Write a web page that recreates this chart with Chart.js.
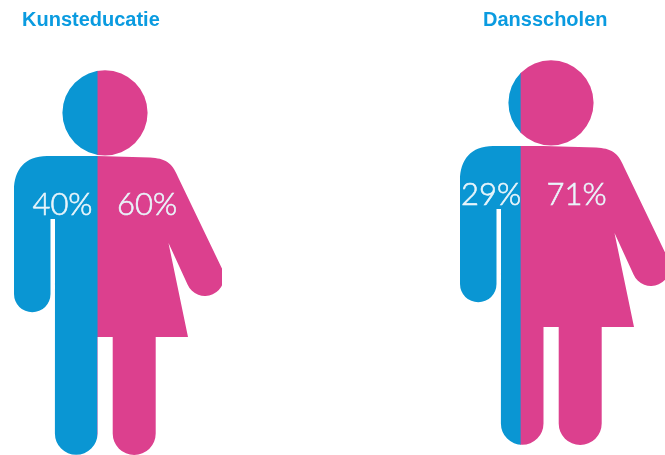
<!DOCTYPE html>
<html><head><meta charset="utf-8">
<script src="https://cdn.jsdelivr.net/npm/chart.js@4"></script>
<style>
html,body{margin:0;padding:0;background:#fff;overflow:hidden;width:665px;height:455px}
#wrap{position:relative;width:665px;height:455px;overflow:hidden}
canvas{position:absolute;top:0}
</style></head><body>
<div id="wrap">
<canvas id="c0" width="232" height="455" style="left:0;width:232px;height:455px"></canvas>
<canvas id="c1" width="232" height="455" style="left:446px;width:232px;height:455px"></canvas>
</div>
<script>
const titles = ['Kunsteducatie', 'Dansscholen'];
const menShare = [40, 29];
const womenShare = [60, 71];

const BLUE = '#0a96d3', PINK = '#dc408e', TITLE = '#0a9be0', LABEL = '#e9f5fb';
// Where each percent label sits along the 0-100 axis of its figure [men, women]
const labelAnchors = [[23.3, 64], [14.9, 56]];
const figureLayout = [
  {top: 8.5, titleGap: 37.5, bottom: 0, titleLeft: 22},
  {top: 8.5, titleGap: 27.5, bottom: 10, titleLeft: 37}
];

// Pictogram outline, used only as a clipping mask for the stacked bar
function silhouette() {
  const p = new Path2D();
  p.arc(105, 112.8, 42.6, 0, Math.PI * 2);
  p.closePath();
  p.moveTo(14, 190);
  p.bezierCurveTo(14, 170, 25, 156, 47, 156);
  p.lineTo(97, 156);
  p.lineTo(150, 157.5);
  p.bezierCurveTo(165, 158.5, 172, 162, 178, 177);
  p.lineTo(222.3, 269.2);
  p.arc(205, 277, 19, -0.42, Math.PI - 0.42);
  p.lineTo(168.5, 243);
  p.lineTo(188, 337);
  p.lineTo(155.7, 337);
  p.lineTo(155.7, 433.5);
  p.arc(134.2, 433.5, 21.5, 0, Math.PI);
  p.lineTo(112.7, 337);
  p.lineTo(97.5, 337);
  p.lineTo(97.5, 433.5);
  p.arc(76.2, 433.5, 21.3, 0, Math.PI);
  p.lineTo(55, 219);
  p.lineTo(50.5, 219);
  p.lineTo(50.5, 294);
  p.arc(32.25, 294, 18.25, 0, Math.PI);
  p.closePath();
  return p;
}
const shape = silhouette();

const figurePlugin = {
  id: 'figure',
  afterLayout(chart) {
    chart.titleBlock.left = chart.options.titleLeft;
  },
  beforeDatasetsDraw(chart) {
    const a = chart.chartArea, ctx = chart.ctx;
    ctx.save();
    ctx.translate(a.left - 14, a.top - 70);
    ctx.clip(shape);
    ctx.translate(14 - a.left, 70 - a.top);
  },
  afterDatasetsDraw(chart) {
    const ctx = chart.ctx, x = chart.scales.x;
    ctx.restore();
    ctx.save();
    ctx.font = '300 31px Lato';
    ctx.fillStyle = LABEL;
    ctx.strokeStyle = LABEL;
    ctx.lineWidth = 0.6;
    ctx.textAlign = 'center';
    ctx.textBaseline = 'alphabetic';
    chart.data.datasets.forEach((d, i) => {
      const s = d.data[0] + '%';
      const px = x.getPixelForValue(chart.options.anchors[i]);
      ctx.fillText(s, px, chart.chartArea.top + 145);
      ctx.strokeText(s, px, chart.chartArea.top + 145);
    });
    ctx.restore();
  }
};

titles.forEach((t, i) => {
  const f = figureLayout[i];
  new Chart(document.getElementById('c' + i), {
    type: 'bar',
    plugins: [figurePlugin],
    data: {
      labels: [t],
      datasets: [
        {label: 'Mannen', data: [menShare[i]], backgroundColor: BLUE, borderWidth: 0},
        {label: 'Vrouwen', data: [womenShare[i]], backgroundColor: PINK, borderWidth: 0}
      ]
    },
    options: {
      indexAxis: 'y',
      responsive: false,
      animation: false,
      devicePixelRatio: 1,
      titleLeft: f.titleLeft,
      anchors: labelAnchors[i],
      layout: {padding: {left: 14, right: 10, top: f.top, bottom: f.bottom}},
      barPercentage: 1,
      categoryPercentage: 1,
      scales: {
        x: {stacked: true, min: 0, max: 100, display: false},
        y: {stacked: true, display: false}
      },
      plugins: {
        legend: {display: false},
        tooltip: {enabled: false},
        title: {
          display: true, text: t, align: 'start', color: TITLE,
          font: {family: '"Liberation Sans"', size: 20, weight: 'bold'},
          padding: {top: 0, bottom: f.titleGap}
        }
      }
    }
  });
});
</script>
</body></html>
